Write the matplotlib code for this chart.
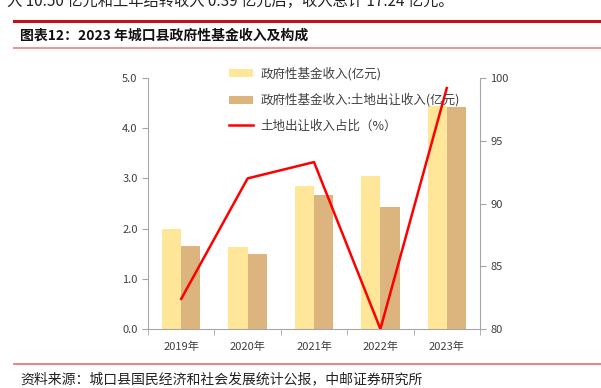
import matplotlib.pyplot as plt
import numpy as np

plt.rcParams['font.family'] = ['Noto Sans CJK SC', 'DejaVu Sans']

years = ["2019年", "2020年", "2021年", "2022年", "2023年"]
fund_income = [2.00, 1.63, 2.85, 3.05, 4.45]
land_income = [1.65, 1.49, 2.67, 2.43, 4.42]
land_share = [82.4, 92.0, 93.3, 80.0, 99.2]

W, H = 601, 388
fig = plt.figure(figsize=(W / 100, H / 100), dpi=100)

# header / footer decorations
fig.text(0.012, 1 - 1 / H, "入 10.50 亿元和上年结转收入 0.39 亿元后，收入总计 17.24 亿元。",
         fontsize=11, color="#222222", va="center", ha="left")
fig.add_artist(plt.Line2D([14 / W, 1], [1 - 21 / H] * 2, color="#C0121C", lw=2.2))
fig.text(20 / W, 1 - 36 / H, "图表12：2023 年城口县政府性基金收入及构成",
         fontsize=10, fontweight="bold", color="#111111", va="center")
fig.add_artist(plt.Line2D([14 / W, 1], [1 - 48 / H] * 2, color="#E8999C", lw=1.5))
fig.add_artist(plt.Line2D([14 / W, 1], [1 - 364 / H] * 2, color="#E07070", lw=1.2))
fig.text(20 / W, 1 - 379 / H, "资料来源：城口县国民经济和社会发展统计公报，中邮证券研究所",
         fontsize=10, color="#222222", va="center")

ax = fig.add_axes([148 / W, (H - 329) / H, (480 - 148) / W, (329 - 78) / H])
x = np.arange(len(years))
bw = 0.29
ax.bar(x - bw / 2, fund_income, bw, color="#FFE699", label="政府性基金收入(亿元)")
ax.bar(x + bw / 2, land_income, bw, color="#DCB47E", label="政府性基金收入:土地出让收入(亿元)")
ax.set_xlim(-0.5, 4.5)
ax.set_ylim(0, 5)
ax.set_yticks(np.arange(0, 5.01, 1.0))
ax.set_yticklabels([f"{v:.1f}" for v in np.arange(0, 5.01, 1.0)])
ax.set_xticks(x)
ax.set_xticklabels(years)
ax.set_xticks(np.arange(-0.5, 4.6, 1), minor=True)
ax.tick_params(axis="x", which="major", length=0, pad=9)
ax.tick_params(axis="x", which="minor", length=4, color="#A6A6A6")
ax.tick_params(axis="y", length=4, color="#A6A6A6")
ax.tick_params(labelsize=8, labelcolor="#404040")
for s in ["top", "right"]:
    ax.spines[s].set_visible(False)
for s in ["left", "bottom"]:
    ax.spines[s].set_color("#A6A6A6")

ax2 = ax.twinx()
ax2.plot(x, land_share, color="#FF0000", lw=1.8, label="土地出让收入占比（%）")
ax2.set_ylim(80, 100)
ax2.set_yticks([80, 85, 90, 95, 100])
ax2.tick_params(axis="y", length=4, color="#A6A6A6", labelsize=8, labelcolor="#404040")
for s in ["top", "left", "bottom"]:
    ax2.spines[s].set_visible(False)
ax2.spines["right"].set_color("#A6A6A6")

h1, l1 = ax.get_legend_handles_labels()
h2, l2 = ax2.get_legend_handles_labels()
leg = ax2.legend(h1 + h2, l1 + l2, loc="upper left", bbox_to_anchor=(0.21, 1.088),
                 frameon=False, fontsize=9, labelspacing=1.0, handlelength=1.9,
                 handleheight=0.6, handletextpad=0.6)
for t in leg.get_texts():
    t.set_color("#404040")

fig.savefig("out.png", dpi=100)
